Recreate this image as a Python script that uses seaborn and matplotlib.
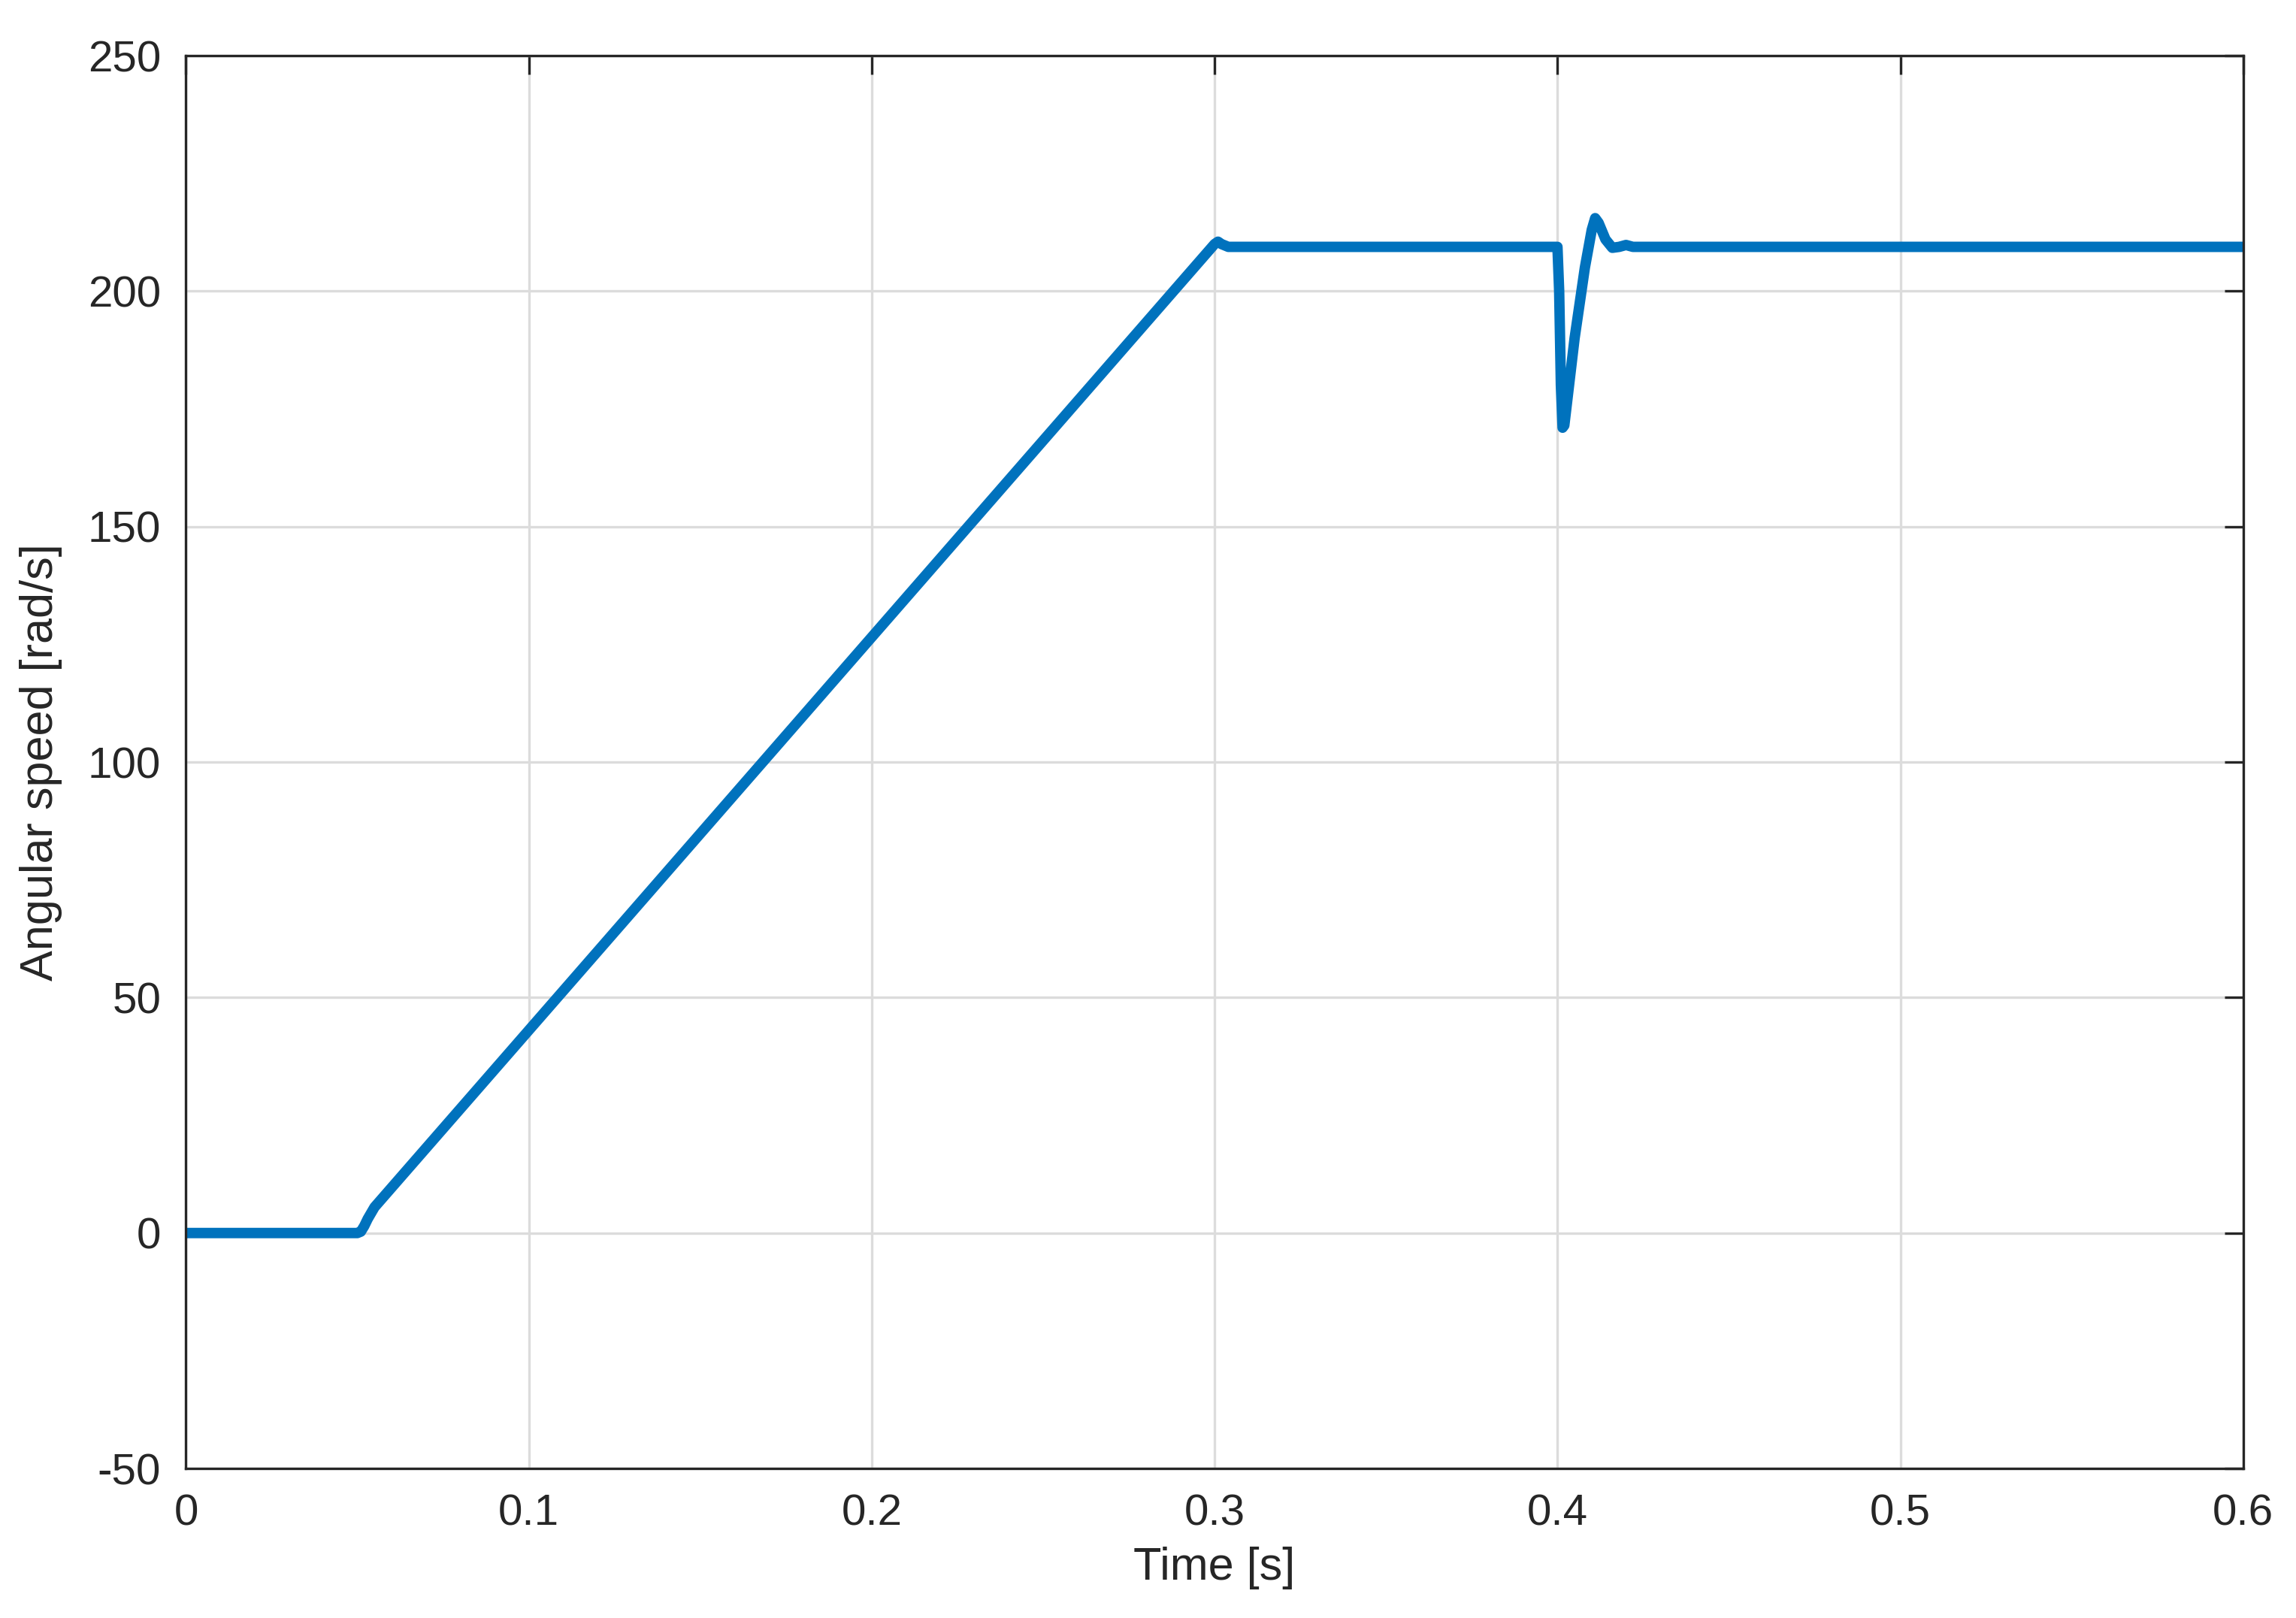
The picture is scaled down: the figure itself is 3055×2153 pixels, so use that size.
import numpy as np
import pandas as pd
import matplotlib
matplotlib.use("Agg")
import matplotlib.pyplot as plt
import seaborn as sns

# Speed trace breakpoints
time_s = [0, 0.05, 0.051, 0.052, 0.053, 0.055, 0.3, 0.301, 0.302, 0.304, 0.4,
          0.4005, 0.401, 0.4015, 0.402, 0.405, 0.408, 0.41, 0.411, 0.412, 0.414,
          0.416, 0.418, 0.42, 0.422, 0.6]
speed = [0, 0, 0.3, 1.5, 3, 5.5, 210, 210.5, 210, 209.4, 209.4,
         200, 180, 171, 171.5, 190, 205, 213, 215.5, 214.5, 211,
         209.2, 209.4, 209.8, 209.4, 209.4]

df = pd.DataFrame({"Time": time_s, "Speed": speed})

sns.set_style("white")
plt.rcParams["font.family"] = ["Liberation Sans", "DejaVu Sans"]
plt.rcParams["axes.unicode_minus"] = False

fig = plt.figure(figsize=(15.275, 10.765), dpi=200)
ax = fig.add_axes([0.081, 0.0924, 0.896, 0.8732])
sns.lineplot(data=df, x="Time", y="Speed", ax=ax, color="#0072BD", linewidth=5)

ax.set_xlim(0, 0.6)
ax.set_ylim(-50, 250)
ax.set_xticks(np.arange(0, 0.61, 0.1))
ax.set_xticklabels(["0", "0.1", "0.2", "0.3", "0.4", "0.5", "0.6"])
ax.set_yticks(np.arange(-50, 251, 50))
ax.grid(True, color="#dcdcdc", linewidth=1.2)
ax.tick_params(labelsize=21, direction="in", length=9, width=1.2, pad=12,
               top=True, right=True, color="#262626", labelcolor="#262626")
for s in ax.spines.values():
    s.set_color("#262626")
    s.set_linewidth(1.2)
ax.set_xlabel("Time [s]", fontsize=22, color="#262626", labelpad=6)
ax.set_ylabel("Angular speed [rad/s]", fontsize=22, color="#262626", labelpad=12)

fig.savefig("out.png", dpi=200)
